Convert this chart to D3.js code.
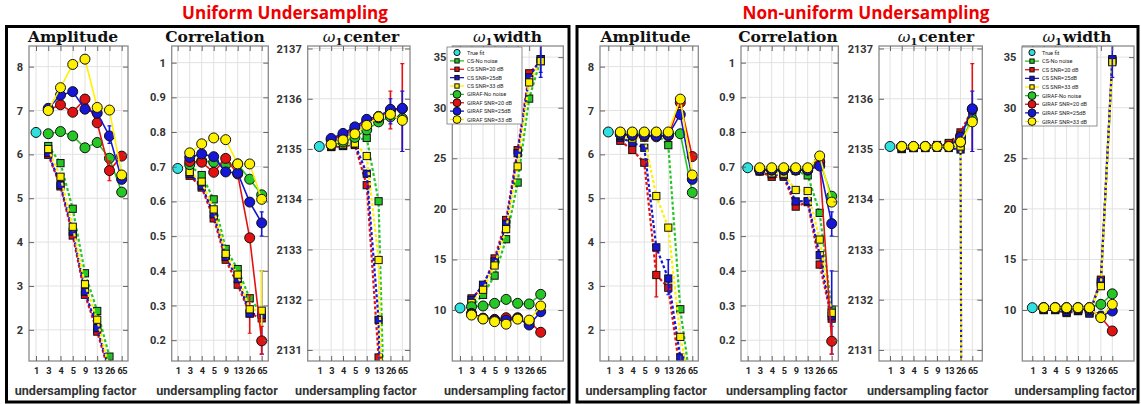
<!DOCTYPE html>
<html><head><meta charset="utf-8">
<script src="https://cdn.jsdelivr.net/npm/d3@7"></script>
<style>body{margin:0;background:#fff} svg{display:block}</style>
</head><body>
<svg id="c" width="1141" height="404"></svg>
<script>
// ---------- categories & series ----------
const categories = ["1","3","4","5","9","13","26","65"];
const seriesNames = ["CS-No noise","CS SNR=20 dB","CS SNR=25dB","CS SNR=33 dB","GIRAF-No noise","GIRAF SNR=20 dB","GIRAF SNR=25dB","GIRAF SNR=33 dB"];
const legendLabels = ["True fit"].concat(seriesNames);
const seriesColors = ["#26c626","#e31212","#1616d6","#fff000","#26c626","#e31212","#1616d6","#fff000"];
const seriesKinds = ["cs","cs","cs","cs","giraf","giraf","giraf","giraf"];
const trueColor = "#2fe0df";
const groupTitles = ["Uniform Undersampling","Non-uniform Undersampling"];

// ---------- tick values ----------
const ampTicks = [2,3,4,5,6,7,8];
const corrTicks = [0.2,0.3,0.4,0.5,0.6,0.7,0.8,0.9,1];
const centerTicks = [2131,2132,2133,2134,2135,2136,2137];
const widthTicks = [10,15,20,25,30,35];

// ---------- values at undersampling factors 3,4,5,9,13,26,65 ----------
// order: CS-No noise, CS 20, CS 25, CS 33, GIRAF-No noise, GIRAF 20, GIRAF 25, GIRAF 33
const uniAmpTrue = 6.5;
const uniAmp = [
  [6.19, 5.80, 4.76, 3.29, 2.43, 1.39, 0.5],
  [5.99, 5.27, 4.15, 2.80, 1.96, 1.00, 0.5],
  [6.03, 5.30, 4.24, 2.87, 2.04, 1.05, 0.5],
  [6.12, 5.49, 4.35, 3.04, 2.23, 1.10, 0.5],
  [6.47, 6.52, 6.42, 6.15, 6.27, 5.91, 5.14],
  [7.01, 7.13, 6.96, 7.26, 6.72, 5.63, 5.96],
  [7.05, 7.35, 7.43, 7.03, 6.94, 6.42, 5.43],
  [7.00, 7.52, 8.05, 8.17, 7.07, 7.01, 5.53]
];
const uniCorrTrue = 0.695;
const uniCorr = [
  [0.703, 0.676, 0.606, 0.463, 0.405, 0.321, 0.277],
  [0.674, 0.640, 0.551, 0.432, 0.360, 0.277, 0.263],
  [0.679, 0.645, 0.563, 0.440, 0.376, 0.277, 0.273],
  [0.685, 0.657, 0.577, 0.449, 0.389, 0.289, 0.285],
  [0.706, 0.717, 0.713, 0.706, 0.708, 0.664, 0.619],
  [0.715, 0.713, 0.684, 0.724, 0.679, 0.495, 0.198],
  [0.727, 0.737, 0.729, 0.685, 0.682, 0.598, 0.538],
  [0.740, 0.766, 0.783, 0.778, 0.708, 0.708, 0.606]
];
const uniCenterTrue = 2135.05;
const uniCenter = [
  [2135.04, 2135.06, 2135.17, 2135.22, 2133.96, 2125, 2120],
  [2135.04, 2135.06, 2135.08, 2134.28, 2130.85, 2120, 2110],
  [2135.05, 2135.07, 2135.10, 2134.51, 2131.60, 2120, 2110],
  [2135.07, 2135.09, 2135.11, 2134.86, 2132.79, 2123, 2115],
  [2135.08, 2135.14, 2135.23, 2135.38, 2135.54, 2135.64, 2135.61],
  [2135.18, 2135.28, 2135.40, 2135.55, 2135.62, 2135.76, 2135.80],
  [2135.21, 2135.31, 2135.44, 2135.59, 2135.65, 2135.79, 2135.81],
  [2135.09, 2135.18, 2135.30, 2135.47, 2135.64, 2135.69, 2135.57]
];
const uniWidthTrue = 10.2;
const uniWidth = [
  [10.3, 11.5, 13.4, 17.0, 22.6, 30.9, 34.8],
  [11.15, 12.3, 15.1, 18.9, 25.8, 33.4, 34.6],
  [11.0, 12.5, 14.8, 18.5, 25.5, 33.0, 34.8],
  [10.7, 12.0, 14.4, 18.0, 24.2, 32.5, 34.6],
  [10.33, 10.4, 10.66, 11.05, 10.66, 10.6, 11.55],
  [9.67, 9.2, 9.08, 9.24, 9.24, 8.85, 7.8],
  [9.6, 9.15, 9.0, 9.0, 9.18, 8.52, 9.83],
  [9.5, 9.11, 8.85, 8.6, 9.1, 9.0, 10.4]
];
const nonAmpTrue = 6.51;
const nonAmp = [
  [6.50, 6.49, 6.47, 6.47, 6.21, 2.47, 0.5],
  [6.31, 6.10, 5.81, 3.25, 2.96, 1.00, 0.5],
  [6.38, 6.27, 6.15, 3.88, 3.17, 1.37, 0.5],
  [6.42, 6.36, 6.38, 5.05, 4.33, 1.84, 0.5],
  [6.50, 6.50, 6.50, 6.50, 6.48, 6.47, 5.13],
  [6.46, 6.43, 6.42, 6.40, 6.42, 7.18, 5.95],
  [6.46, 6.44, 6.44, 6.42, 6.44, 6.91, 5.43],
  [6.51, 6.51, 6.51, 6.51, 6.51, 7.26, 5.53]
];
const nonCorrTrue = 0.697;
const nonCorr = [
  [0.692, 0.688, 0.685, 0.688, 0.675, 0.567, 0.288],
  [0.686, 0.671, 0.671, 0.585, 0.598, 0.418, 0.262],
  [0.688, 0.678, 0.675, 0.600, 0.601, 0.445, 0.269],
  [0.690, 0.681, 0.680, 0.633, 0.630, 0.490, 0.279],
  [0.695, 0.695, 0.695, 0.695, 0.695, 0.716, 0.615],
  [0.690, 0.690, 0.690, 0.690, 0.690, 0.712, 0.197],
  [0.691, 0.691, 0.691, 0.691, 0.691, 0.702, 0.536],
  [0.697, 0.697, 0.697, 0.697, 0.697, 0.731, 0.598]
];
const nonCenterTrue = 2135.05;
const nonCenter = [
  [2135.01, 2135.02, 2135.03, 2135.03, 2135.10, 2135.28, 2135.64],
  [2135.00, 2135.02, 2135.02, 2135.03, 2135.12, 2135.33, 2135.79],
  [2135.00, 2135.02, 2135.02, 2135.08, 2135.02, 2134.99, 2060],
  [2135.03, 2135.04, 2135.04, 2135.05, 2135.05, 2135.05, 2060],
  [2135.05, 2135.05, 2135.05, 2135.05, 2135.05, 2135.14, 2135.59],
  [2135.05, 2135.05, 2135.05, 2135.05, 2135.05, 2135.26, 2135.79],
  [2135.05, 2135.05, 2135.05, 2135.05, 2135.05, 2135.23, 2135.80],
  [2135.05, 2135.05, 2135.05, 2135.05, 2135.05, 2135.14, 2135.54]
];
const nonWidthTrue = 10.23;
const nonWidth = [
  [10.1, 10.1, 10.0, 10.0, 9.9, 12.6, 34.6],
  [10.0, 10.0, 9.7, 9.9, 9.7, 13.0, 34.7],
  [10.0, 10.0, 9.8, 9.9, 9.65, 12.8, 34.8],
  [10.1, 10.1, 10.0, 10.0, 9.9, 12.36, 34.5],
  [10.25, 10.25, 10.25, 10.25, 10.25, 10.56, 11.6],
  [10.2, 10.2, 10.15, 10.15, 10.1, 9.3, 7.93],
  [10.2, 10.2, 10.15, 10.15, 10.1, 9.4, 9.9],
  [10.23, 10.23, 10.23, 10.23, 10.23, 9.25, 10.56]
];

// ---------- error bars: [series, category index, low, high] ----------
const uniAmpErr = [[6,6,6.25,6.65],[5,6,5.4,5.85]];
const uniCorrErr = [[6,7,0.50,0.57],[5,7,0.16,0.24],[1,6,0.22,0.33],[3,7,0.24,0.40],[2,7,0.16,0.40]];
const uniCenterErr = [[5,7,2134.95,2136.7],[6,7,2134.95,2136.15],[5,6,2135.4,2136.15],[6,6,2135.5,2136.0]];
const uniWidthErr = [[6,7,33,36.5],[2,7,33.5,36.5]];
const nonAmpErr = [[1,4,2.75,3.8],[2,5,2.8,3.6]];
const nonCorrErr = [[6,7,0.50,0.57],[5,7,0.16,0.24],[2,7,0.16,0.40]];
const nonCenterErr = [[5,7,2134.95,2136.7],[6,7,2134.95,2136.15]];
const nonWidthErr = [[6,7,33,36.5]];

// ---------- layout ----------
const TOP = 46, BOT = 361;
const svg = d3.select("#c");
const ampDomain = [1.29, 8.47], corrDomain = [0.14, 1.048], centerDomain = [2130.78, 2137.05], widthDomain = [4.96, 36.1];

const panels = [
  {L:29, R:128, x0:36, x7:121.7, tx:73, title:"Amplitude", vals:uniAmp, tv:uniAmpTrue, err:uniAmpErr, dom:ampDomain, ticks:ampTicks},
  {L:171.7, R:268.3, x0:177.7, x7:261.7, tx:215, title:"Correlation", vals:uniCorr, tv:uniCorrTrue, err:uniCorrErr, dom:corrDomain, ticks:corrTicks},
  {L:307.7, R:410, x0:319.3, x7:402.3, tx:361, title:"omega center", vals:uniCenter, tv:uniCenterTrue, err:uniCenterErr, dom:centerDomain, ticks:centerTicks},
  {L:452.3, R:563.3, x0:460, x7:540.7, tx:507.5, title:"omega width", vals:uniWidth, tv:uniWidthTrue, err:uniWidthErr, dom:widthDomain, ticks:widthTicks, legend:{x:447,y:47,w:75,h:77}},
  {L:600, R:698.3, x0:608.3, x7:692.3, tx:645.5, title:"Amplitude", vals:nonAmp, tv:nonAmpTrue, err:nonAmpErr, dom:ampDomain, ticks:ampTicks},
  {L:741, R:838.3, x0:747.7, x7:831.7, tx:788, title:"Correlation", vals:nonCorr, tv:nonCorrTrue, err:nonCorrErr, dom:corrDomain, ticks:corrTicks},
  {L:879, R:982.3, x0:890, x7:972.3, tx:936, title:"omega center", vals:nonCenter, tv:nonCenterTrue, err:nonCenterErr, dom:centerDomain, ticks:centerTicks},
  {L:1022.3, R:1134, x0:1032.3, x7:1112.3, tx:1077, title:"omega width", vals:nonWidth, tv:nonWidthTrue, err:nonWidthErr, dom:widthDomain, ticks:widthTicks, legend:{x:1022,y:47,w:75,h:79}}
];

// outer boxes and red titles
const boxes = [{x:6.5, w:562.5, tx:285, tl:206}, {x:577, w:561, tx:866, tl:247}];
boxes.forEach((b,i) => {
  svg.append("rect").attr("x", b.x).attr("y", 26.5).attr("width", b.w).attr("height", 375.5)
    .attr("fill", "none").attr("stroke", "#000").attr("stroke-width", 3);
  svg.append("text").attr("x", b.tx).attr("y", 18.5).attr("text-anchor", "middle")
    .attr("font-family", "Open Sans, Lato, sans-serif").attr("font-weight", 700).attr("font-size", 17)
    .attr("fill", "#ee0000").attr("textLength", b.tl).attr("lengthAdjust", "spacingAndGlyphs")
    .text(groupTitles[i]);
});

const R_C = 5, S_Q = 7.2;
function marker(sel, kind, color, cx, cy, scale) {
  const s = scale || 1;
  if (kind === "cs") {
    sel.append("rect").attr("x", cx - S_Q*s/2).attr("y", cy - S_Q*s/2).attr("width", S_Q*s).attr("height", S_Q*s)
      .attr("fill", color).attr("stroke", "#111").attr("stroke-width", 1);
  } else {
    sel.append("circle").attr("cx", cx).attr("cy", cy).attr("r", R_C*s)
      .attr("fill", color).attr("stroke", "#111").attr("stroke-width", 1);
  }
}

panels.forEach((p, pi) => {
  const g = svg.append("g");
  const x = d3.scaleLinear().domain([0, 7]).range([p.x0, p.x7]);
  const y = d3.scaleLinear().domain(p.dom).range([BOT, TOP]);
  const idx = d3.range(categories.length);

  g.append("rect").attr("x", p.L).attr("y", TOP).attr("width", p.R - p.L).attr("height", BOT - TOP).attr("fill", "#fff");
  // grid
  g.append("g").selectAll("line").data(idx).join("line")
    .attr("x1", d => x(d)).attr("x2", d => x(d)).attr("y1", TOP).attr("y2", BOT)
    .attr("stroke", "#e2e2e2").attr("stroke-width", 1);
  g.append("g").selectAll("line").data(p.ticks).join("line")
    .attr("x1", p.L).attr("x2", p.R).attr("y1", d => y(d)).attr("y2", d => y(d))
    .attr("stroke", "#e2e2e2").attr("stroke-width", 1);

  // clip
  const cid = "clip" + pi;
  svg.append("clipPath").attr("id", cid).append("rect")
    .attr("x", p.L).attr("y", TOP).attr("width", p.R - p.L).attr("height", BOT - TOP);
  const data = g.append("g").attr("clip-path", `url(#${cid})`);

  const line = d3.line().x(d => x(d[0])).y(d => y(d[1]));
  // true fit
  marker(data, "giraf", trueColor, x(0), y(p.tv));
  p.vals.forEach((vals, si) => {
    const pts = vals.map((v, k) => [k + 1, v]);
    const col = seriesColors[si];
    const cs = seriesKinds[si] === "cs";
    data.append("path").attr("d", line(pts)).attr("fill", "none").attr("stroke", col)
      .attr("stroke-width", cs ? 2.2 : 1.6).attr("stroke-dasharray", cs ? "3,2.2" : null);
    p.err.filter(e => e[0] === si).forEach(e => {
      data.append("line").attr("x1", x(e[1])).attr("x2", x(e[1])).attr("y1", y(e[2])).attr("y2", y(e[3]))
        .attr("stroke", col).attr("stroke-width", 1.6);
      [e[2], e[3]].forEach(v => data.append("line").attr("x1", x(e[1]) - 2).attr("x2", x(e[1]) + 2)
        .attr("y1", y(v)).attr("y2", y(v)).attr("stroke", col).attr("stroke-width", 1.2));
    });
    pts.forEach(d => marker(data, seriesKinds[si], col, x(d[0]), y(d[1])));
  });

  // box
  g.append("rect").attr("x", p.L).attr("y", TOP).attr("width", p.R - p.L).attr("height", BOT - TOP)
    .attr("fill", "none").attr("stroke", "#8a8a8a").attr("stroke-width", 1.3);

  // axes (ticks inside, MATLAB style)
  const tickStyle = a => { a.select(".domain").remove(); a.selectAll(".tick line").attr("stroke", "#666").attr("stroke-width", 1); };
  const ax = d3.axisBottom(x).tickValues(idx).tickFormat(i => categories[i]).tickSizeInner(-5).tickSizeOuter(0).tickPadding(6);
  g.append("g").attr("transform", `translate(0,${BOT})`).call(ax).call(tickStyle)
    .selectAll("text").attr("font-family", "Roboto, sans-serif").attr("font-weight", 700).attr("font-size", 9.2)
    .attr("letter-spacing", -0.5).attr("fill", "#222");
  g.append("g").attr("transform", `translate(0,${TOP})`).call(d3.axisTop(x).tickValues(idx).tickFormat("").tickSizeInner(-5).tickSizeOuter(0)).call(tickStyle);
  g.append("g").attr("transform", `translate(${p.L},0)`)
    .call(d3.axisLeft(y).tickValues(p.ticks).tickFormat(d3.format("~g")).tickSizeInner(-5).tickSizeOuter(0).tickPadding(6)).call(tickStyle)
    .selectAll("text").attr("font-family", "Roboto, sans-serif").attr("font-weight", 700).attr("font-size", 11).attr("fill", "#333");
  g.append("g").attr("transform", `translate(${p.R},0)`)
    .call(d3.axisRight(y).tickValues(p.ticks).tickFormat("").tickSizeInner(-5).tickSizeOuter(0)).call(tickStyle);

  // panel title
  const t = g.append("text").attr("x", p.tx).attr("y", 42).attr("text-anchor", "middle")
    .attr("font-family", "DejaVu Serif, serif").attr("font-weight", 700).attr("font-size", 15.5).attr("fill", "#111");
  if (p.title.startsWith("omega")) {
    t.append("tspan").attr("font-style", "italic").attr("font-weight", 400).text("\u03C9");
    t.append("tspan").attr("font-size", 10).attr("dy", 3).text("1");
    t.append("tspan").attr("dy", -3).attr("dx", 1).text(p.title.split(" ")[1]);
  } else t.text(p.title);

  // x label
  g.append("text").attr("x", (p.L + p.R) / 2 - 3).attr("y", 395).attr("text-anchor", "middle")
    .attr("font-family", "Roboto, sans-serif").attr("font-weight", 700).attr("font-size", 12.6).attr("fill", "#333")
    .text("undersampling factor");

  // legend
  if (p.legend) {
    const lg = g.append("g");
    const Lg = p.legend;
    lg.append("rect").attr("x", Lg.x).attr("y", Lg.y).attr("width", Lg.w).attr("height", Lg.h)
      .attr("fill", "#fff").attr("stroke", "#777").attr("stroke-width", 0.8);
    const rowH = (Lg.h - 10) / 8;
    legendLabels.forEach((lab, i) => {
      const cy = Lg.y + 5.5 + i * rowH;
      const col = i === 0 ? trueColor : seriesColors[i - 1];
      const kind = i === 0 ? "giraf" : seriesKinds[i - 1];
      if (i > 0) lg.append("line").attr("x1", Lg.x + 3).attr("x2", Lg.x + 17).attr("y1", cy).attr("y2", cy)
        .attr("stroke", col).attr("stroke-width", 1.3);
      marker(lg, kind, col, Lg.x + 10, cy, i === 0 ? 0.62 : (kind === "cs" ? 0.6 : 0.78));
      lg.append("text").attr("x", Lg.x + 20).attr("y", cy + 2).attr("font-family", "Roboto, sans-serif")
        .attr("font-size", 5.6).attr("fill", "#222").text(lab);
    });
  }
});
</script>
</body></html>
